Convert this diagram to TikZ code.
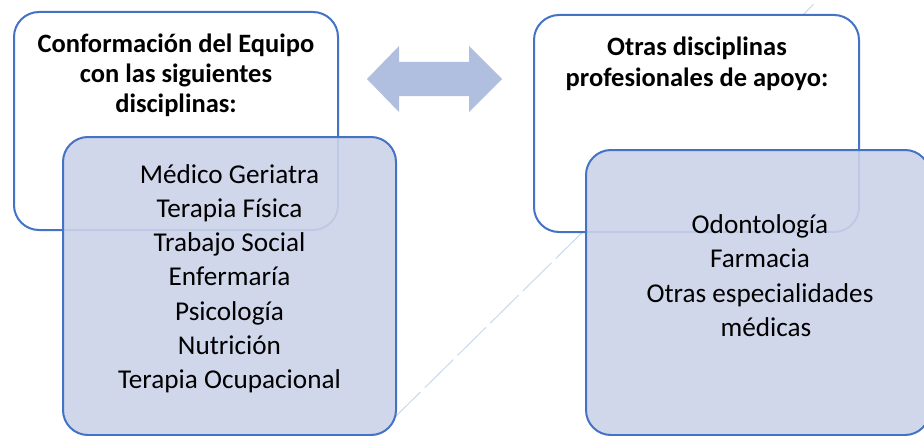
\documentclass[tikz,border=0pt]{standalone}
\usepackage{fontspec}
\setmainfont{Carlito}

\definecolor{boxline}{HTML}{4472C4}
\definecolor{boxfill}{HTML}{CCD3E9}
\definecolor{arrowfill}{HTML}{B0BEE0}
\definecolor{faintline}{HTML}{C6D9EE}

\tikzset{
  headbox/.style={draw=boxline, line width=2pt, fill=white, rounded corners=25pt, inner sep=0pt},
  listbox/.style={draw=boxline, line width=2pt, fill=boxfill, fill opacity=0.9, rounded corners=25pt, inner sep=0pt},
  headtext/.style={font=\fontsize{26.5}{29.5}\selectfont\bfseries, anchor=base, inner sep=0pt},
  itemtext/.style={font=\fontsize{27.2}{34}\selectfont, anchor=base, inner sep=0pt}
}

\begin{document}
\begin{tikzpicture}[x=1pt,y=-1pt]
   \useasboundingbox (0,0) rectangle (924,436);
   % faint diagonal behind the boxes
   \coordinate (diagA) at (392,420);
   \coordinate (diagB) at (818,0);
   \draw[faintline, line width=1pt, dash pattern=on 40pt off 6pt] (diagA) -- (diagB);
   % header boxes
   \node[headbox, minimum width=324pt, minimum height=218pt] (teamhead) at (176,121) {};
   \node[headbox, minimum width=325pt, minimum height=217pt] (otherhead) at (696.5,123.5) {};
   % list boxes
   \node[listbox, minimum width=333pt, minimum height=298pt] (teamlist) at (229.5,286) {};
   \node[listbox, minimum width=344pt, minimum height=285pt] (otherlist) at (758,292.5) {};
   % double arrow between the headers
   \fill[arrowfill] (367,79) -- (399,46) -- (399,62) -- (469,62) -- (469,46) -- (502,79)
        -- (469,112) -- (469,96) -- (399,96) -- (399,112) -- cycle;
   % header texts
   \node[headtext] (th1) at (176,53) {Conformación del Equipo};
   \node[headtext] (th2) at (176,83) {con las siguientes};
   \node[headtext] (th3) at (176,112) {disciplinas:};
   \node[headtext] (oh1) at (697,56) {Otras disciplinas};
   \node[headtext] (oh2) at (697,86) {profesionales de apoyo:};
   % list texts
   \foreach \t [count=\i] in {Médico Geriatra, Terapia Física, Trabajo Social, Enfermaría,
                              Psicología, Nutrición, Terapia Ocupacional}
      \node[itemtext] (team\i) at (229.5,{183+34.3*(\i-1)}) {\t};
   \foreach \t/\x [count=\i] in {Odontología/760, Farmacia/760, Otras especialidades/760, médicas/766}
      \node[itemtext] (other\i) at (\x,{233+34.5*(\i-1)}) {\t};
\end{tikzpicture}
\end{document}
